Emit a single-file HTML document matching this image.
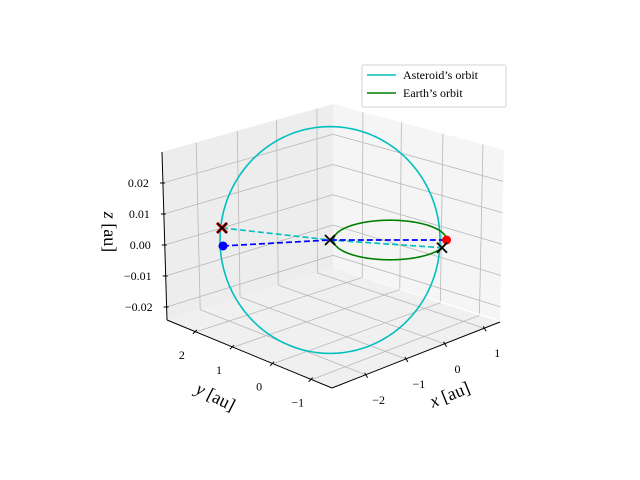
<!DOCTYPE html>
<html><head><meta charset="utf-8"><style>
body{margin:0;background:#fff}
svg{display:block}
text{font-family:"Liberation Serif",serif;fill:#000}
</style></head><body>
<svg id="c" width="640" height="480" viewBox="0 0 640 480">
<g id="panes"></g>
<g id="grid"></g>
<g id="axes"></g>
<g id="marks"></g>
<text x="104" y="232" font-size="18" text-anchor="middle" transform="rotate(90 104 232)"><tspan font-style="italic">z</tspan> [au]</text>
<text x="213" y="402" font-size="18" text-anchor="middle" transform="rotate(27 213 402)"><tspan font-style="italic">y</tspan> [au]</text>
<text x="452" y="400" font-size="18" text-anchor="middle" transform="rotate(-22 452 400)"><tspan font-style="italic">x</tspan> [au]</text>
<g>
<rect x="362" y="65" width="144" height="42" rx="2" fill="#fff" stroke="#d0d0d0" stroke-width="1"/>
<line x1="367" y1="75" x2="396" y2="75" stroke="#00bfbf" stroke-width="1.6"/>
<text x="403" y="79" font-size="12">Asteroid’s orbit</text>
<line x1="367" y1="93" x2="396" y2="93" stroke="#008000" stroke-width="1.6"/>
<text x="403" y="97" font-size="12">Earth’s orbit</text>
</g>
</svg>
<script>
// ---- data ----
const earthOrbitCenter = [0.75, -0.75, 0];
const earthOrbitRadius = [1.0, 1.0];
const asteroidOrbitCenter = [0.0, 0.0, 0];
const asteroidOrbitSemiAxes = [1.375, 4.05];
const sunPos = [0, 0, 0];
const earthPos = [1.457, -1.457, 0];
const asteroidPos = [-1.55, 1.125, 0];
const asteroidMarkPos = [-1.35, 1.35, 0.0039];
const earthMarkPos = [1.4, -1.4, -0.0025];
const zTicks = ["0.02", "0.01", "0.00", "−0.01", "−0.02"];
const xTicks = ["−2", "−1", "0", "1"];
const yTicks = ["2", "1", "0", "−1"];

const NS = "http://www.w3.org/2000/svg";
function mk(parent, tag, attrs) {
  const e = document.createElementNS(NS, tag);
  for (const k in attrs) e.setAttribute(k, attrs[k]);
  document.getElementById(parent).appendChild(e);
  return e;
}
function proj(p) {
  return [330 + 40 * (p[0] - p[1]), 240 - 14 * (p[0] + p[1]) - 3100 * p[2]];
}
function lerp(a, b, t) { return [a[0] + (b[0] - a[0]) * t, a[1] + (b[1] - a[1]) * t]; }
function quadPt(q, u, v) { return lerp(lerp(q[0], q[1], u), lerp(q[3], q[2], u), v); }

const LP = [[162,152],[333,104],[333,268],[167,320]];
const RP = [[333,104],[504,150],[500,320],[333,268]];
const FL = [[167,320],[333,268],[500,322],[332,388]];
const zFr = [0.1845, 0.369, 0.5536, 0.738, 0.9226];
const lFr = [0.2, 0.44, 0.67, 0.906];
const rFr = [0.175, 0.40, 0.643, 0.877];

function poly(g, q, fill, name) {
  const e = mk(g, "polygon", {points: q.map(p => p.join(",")).join(" "), fill: fill});
  
  
}
poly("panes", LP, "#ededed", "left-pane");
poly("panes", RP, "#f5f5f5", "right-pane");
poly("panes", FL, "#f0f0f0", "floor-pane");

function gl(a, b, name) {
  const e = mk("grid", "line", {x1: a[0], y1: a[1], x2: b[0], y2: b[1], stroke: "#b8b8b8", "stroke-width": 0.8});
  
  
}
zFr.forEach(f => { gl(quadPt(LP,0,f), quadPt(LP,1,f), "z-grid-left"); gl(quadPt(RP,0,f), quadPt(RP,1,f), "z-grid-right"); });
lFr.forEach(f => { gl(quadPt(LP,f,0), quadPt(LP,f,1), "x-grid-left"); gl(lerp(FL[0],FL[1],f), lerp(FL[3],FL[2],f), "x-grid-floor"); });
rFr.forEach(f => { gl(quadPt(RP,f,0), quadPt(RP,f,1), "y-grid-right"); gl(lerp(FL[1],FL[2],f), lerp(FL[0],FL[3],f), "y-grid-floor"); });

function al(a, b, name, w) {
  const e = mk("axes", "line", {x1: a[0], y1: a[1], x2: b[0], y2: b[1], stroke: "#000", "stroke-width": w || 1});
  
  
}
al(LP[0], LP[3], "z-axis-line");
al(FL[0], FL[3], "y-axis-line");
al(FL[3], FL[2], "x-axis-line");
function tl(x, y, s, anchor, name) {
  const e = mk("axes", "text", {x: x, y: y, "font-size": 12, "text-anchor": anchor});
  e.textContent = s;
  
  
}
zTicks.forEach((s, i) => {
  const p = lerp(LP[0], LP[3], zFr[i]);
  al([p[0]-3, p[1]], [p[0]+2, p[1]], "z-tick");
  tl(p[0]-14, p[1]+4, s, "end", "z-tick-label");
});
xTicks.forEach((s, i) => {
  const p = lerp(FL[3], FL[2], lFr[i]);
  al([p[0]-1, p[1]-2], [p[0]+2, p[1]+3], "x-tick");
  tl(p[0]+13, p[1]+29, s, "middle", "x-tick-label");
});
yTicks.forEach((s, i) => {
  const p = lerp(FL[0], FL[3], rFr[i]);
  al([p[0]+1, p[1]-2], [p[0]-3, p[1]+2], "y-tick");
  tl(p[0]-14, p[1]+27, s, "middle", "y-tick-label");
});

function earthPath() {
  let d = "";
  for (let k = 0; k <= 200; k++) {
    const t = 2 * Math.PI * k / 200;
    const p = proj([earthOrbitCenter[0] + earthOrbitRadius[0] * Math.cos(t), earthOrbitCenter[1] + earthOrbitRadius[1] * Math.sin(t), earthOrbitCenter[2]]);
    d += (k ? "L" : "M") + p[0].toFixed(2) + "," + p[1].toFixed(2);
  }
  return d;
}
function asteroidPath() {
  let d = "";
  for (let k = 0; k <= 200; k++) {
    const t = 2 * Math.PI * k / 200;
    const u = asteroidOrbitSemiAxes[0] * Math.cos(t), v = asteroidOrbitSemiAxes[1] * Math.sin(t);
    const p = proj([asteroidOrbitCenter[0] + u + v, asteroidOrbitCenter[1] - u + v, asteroidOrbitCenter[2]]);
    d += (k ? "L" : "M") + p[0].toFixed(2) + "," + p[1].toFixed(2);
  }
  return d;
}
let e;
e = mk("marks", "path", {d: asteroidPath(), fill: "none", stroke: "#00bfbf", "stroke-width": 1.6});


e = mk("marks", "path", {d: earthPath(), fill: "none", stroke: "#008000", "stroke-width": 1.6});



function dashed(pts, color, name) {
  const d = pts.map((p, i) => { const s = proj(p); return (i ? "L" : "M") + s[0] + "," + s[1]; }).join("");
  const el = mk("marks", "path", {d: d, fill: "none", stroke: color, "stroke-width": 1.7, "stroke-dasharray": "6,3"});
  
  
}
dashed([asteroidMarkPos, sunPos, earthMarkPos], "#00bfbf", "asteroid-line-of-sight");
dashed([asteroidPos, sunPos, earthPos], "#0000ff", "earth-line-of-sight");

function dot(p, color, name) {
  const s = proj(p);
  const el = mk("marks", "circle", {cx: s[0], cy: s[1], r: 4.5, fill: color});
  
  
}
function cross(p, color, size, w, name) {
  const s = proj(p);
  const el = mk("marks", "path", {d: `M${s[0]-size},${s[1]-size}L${s[0]+size},${s[1]+size}M${s[0]-size},${s[1]+size}L${s[0]+size},${s[1]-size}`, stroke: color, "stroke-width": w, fill: "none"});
  
  
}
dot(asteroidPos, "#0000ff", "asteroid-position");
dot(earthPos, "#ff0000", "earth-position");
cross(asteroidMarkPos, "#ff0000", 5, 3, "asteroid-mark-red");
cross(asteroidMarkPos, "#000", 5, 1.6, "asteroid-mark");
cross(sunPos, "#000", 5, 1.8, "sun-mark");
cross(earthMarkPos, "#000", 5, 1.8, "earth-mark");
</script>
</body></html>
